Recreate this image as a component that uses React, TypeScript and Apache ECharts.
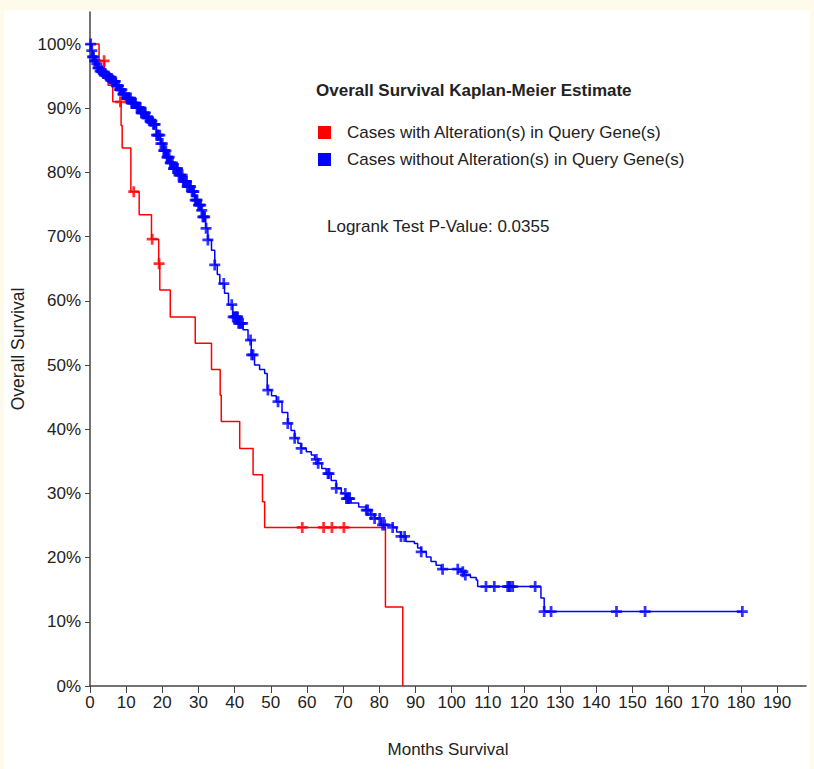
import React, { useEffect, useRef } from "react";
import * as echarts from "echarts";

const redName = "Cases with Alteration(s) in Query Gene(s)";
const blueName = "Cases without Alteration(s) in Query Gene(s)";

// Kaplan-Meier steps (months, survival %)
const redTimes = [0, 2.5, 4.0, 5.0, 6.3, 8.6, 8.9, 11.3, 13.6, 17.0, 19.0, 19.3, 22.2, 29.1, 33.6, 36.0, 36.3, 41.4, 45.1, 47.7, 48.3, 81.7, 86.5];
const redSurv = [100, 97.4, 94.8, 93.6, 91.0, 87.3, 83.8, 77.0, 73.4, 69.6, 65.8, 61.7, 57.5, 53.4, 49.3, 45.3, 41.2, 37.0, 32.9, 28.7, 24.7, 12.3, 0];
const redCensor = [3.9, 8.4, 12.1, 17.2, 19.1, 58.7, 64.6, 66.9, 70.2];

const blueTimes = [0, 0.4, 0.7, 1.2, 1.6, 2.0, 2.5, 3.4, 4.4, 5.3, 6.2, 7.1, 8.0, 9.0, 9.9, 11.3, 12.7, 14.0, 15.4, 16.3, 17.3, 18.4, 19.5, 20.3, 21.1, 22.0, 23.0, 24.3, 25.7, 26.9, 28.0, 29.0, 30.0, 30.8, 31.2, 32.0, 32.6, 33.6, 34.5, 35.2, 35.9, 37.2, 38.3, 39.5, 40.9, 42.3, 43.7, 44.6, 45.5, 46.9, 48.3, 49.0, 50.2, 51.5, 53.1, 54.7, 55.6, 56.6, 57.5, 58.4, 59.8, 61.2, 62.1, 63.0, 64.1, 65.3, 66.7, 68.1, 69.5, 70.9, 72.2, 74.3, 76.4, 77.5, 78.7, 80.5, 83.7, 84.8, 86.0, 87.4, 89.7, 90.6, 91.6, 93.0, 94.3, 95.7, 97.1, 102.6, 103.5, 105.2, 106.8, 107.2, 124.7, 125.6];
const blueSurv = [100, 99.0, 98.0, 97.4, 96.9, 96.3, 95.8, 95.4, 95.0, 94.6, 94.2, 93.5, 92.9, 92.2, 91.6, 90.8, 90.1, 89.3, 88.5, 88.0, 87.5, 85.8, 84.5, 83.4, 82.4, 81.5, 80.6, 79.6, 78.6, 77.8, 77.0, 75.7, 74.9, 74.1, 73.1, 71.3, 69.5, 67.9, 65.6, 64.1, 62.7, 61.2, 59.4, 57.5, 56.5, 55.5, 53.9, 51.6, 50.0, 49.3, 48.7, 46.1, 45.2, 44.3, 42.6, 40.9, 39.8, 38.6, 37.8, 37.0, 36.5, 36.0, 35.3, 34.7, 33.9, 33.1, 32.0, 30.8, 30.0, 29.2, 28.5, 27.9, 27.4, 26.7, 26.1, 25.1, 24.7, 24.0, 23.3, 22.5, 22.2, 21.5, 20.9, 20.1, 19.4, 18.8, 18.2, 17.8, 17.3, 16.9, 16.5, 15.5, 13.7, 11.6];
const blueCensor = [0.2, 0.5, 0.7, 1.0, 1.3, 1.5, 1.9, 2.2, 2.4, 2.8, 3.1, 3.3, 3.7, 4.0, 4.2, 4.6, 4.9, 5.1, 5.5, 5.8, 6.0, 6.4, 6.7, 7.0, 7.3, 7.5, 7.9, 8.2, 8.4, 8.8, 9.1, 9.3, 9.7, 10.0, 10.3, 10.6, 10.8, 11.2, 11.5, 11.7, 12.1, 12.4, 12.6, 13.0, 13.3, 13.5, 13.9, 14.2, 14.4, 14.8, 15.1, 15.3, 15.7, 16.0, 16.2, 16.6, 16.9, 17.1, 17.5, 17.8, 18.0, 18.4, 18.7, 18.9, 19.3, 19.6, 20.0, 20.4, 20.6, 21.0, 21.3, 21.5, 21.9, 22.2, 22.4, 22.8, 23.1, 23.3, 23.7, 24.0, 24.2, 24.6, 24.9, 25.1, 25.5, 25.8, 26.0, 26.4, 26.7, 26.9, 27.3, 27.6, 27.8, 28.2, 28.5, 28.7, 29.1, 29.4, 29.6, 30.0, 30.3, 30.6, 30.9, 31.2, 31.5, 31.7, 32.1, 32.6, 34.5, 37.0, 39.2, 39.6, 40.0, 40.3, 40.6, 40.8, 41.1, 41.4, 41.8, 42.2, 44.4, 44.7, 45.1, 49.2, 52.0, 54.7, 56.6, 58.4, 62.6, 63.1, 65.8, 66.1, 68.1, 70.6, 70.9, 71.3, 71.5, 71.8, 76.4, 76.8, 77.8, 78.7, 80.1, 80.9, 81.5, 83.7, 86.0, 87.0, 91.6, 97.5, 101.7, 103.1, 103.8, 109.5, 111.8, 115.5, 115.9, 116.2, 116.9, 123.1, 125.6, 127.5, 145.6, 153.5, 180.4];

const xTicks = [0, 10, 20, 30, 40, 50, 60, 70, 80, 90, 100, 110, 120, 130, 140, 150, 160, 170, 180, 190];
const yTicks = [0, 10, 20, 30, 40, 50, 60, 70, 80, 90, 100];

const survAt = (times: number[], surv: number[], t: number) => {
  let v = surv[0];
  for (let i = 0; i < times.length; i++) if (times[i] <= t) v = surv[i];
  return v;
};

const lineData = (times: number[], surv: number[], censor: number[]) => {
  const d = times.map((t, i) => [t, surv[i]]);
  const lastC = Math.max(...censor);
  if (lastC > times[times.length - 1]) d.push([lastC, surv[surv.length - 1]]);
  return d;
};

const censorData = (times: number[], surv: number[], censor: number[]) =>
  censor.map((t) => [t, survAt(times, surv, t)]);

const plus = "path://M3,0H5V3H8V5H5V8H3V5H0V3H3Z";
const sans = "'Liberation Sans', Arial, sans-serif";

export default function App() {
  const ref = useRef<HTMLDivElement>(null);
  useEffect(() => {
    if (!ref.current) return;
    const chart = echarts.init(ref.current, undefined, { renderer: "svg" });
    chart.setOption({
      animation: false,
      title: {
        text: "Overall Survival Kaplan-Meier Estimate",
        left: 307,
        top: 67,
        textStyle: { fontSize: 17, fontWeight: "bold", color: "#222", fontFamily: sans },
      },
      legend: {
        data: [redName, blueName],
        orient: "vertical",
        left: 309,
        top: 109,
        itemWidth: 13,
        itemHeight: 13,
        itemGap: 10,
        icon: "rect",
        textStyle: { fontSize: 17, color: "#222", fontFamily: sans, padding: [0, 0, 0, 11] },
      },
      grid: { left: 86, top: 2, right: 4, bottom: 83, containLabel: false, outerBoundsMode: "none" },
      xAxis: {
        type: "value",
        min: 0,
        max: 198,
        interval: 10,
        name: "Months Survival",
        nameLocation: "middle",
        nameGap: 55,
        nameTextStyle: { fontSize: 17, fontFamily: sans, color: "#222" },
        axisLine: { show: true, lineStyle: { color: "#444", width: 1.5 } },
        axisTick: { show: true, length: 7, customValues: xTicks, lineStyle: { color: "#444" } },
        axisLabel: { customValues: xTicks, fontSize: 17, fontFamily: sans, color: "#222", margin: 8 },
        splitLine: { show: false },
      },
      yAxis: {
        type: "value",
        min: 0,
        max: 105,
        interval: 10,
        name: "Overall Survival",
        nameLocation: "middle",
        nameGap: 60,
        nameTextStyle: { fontSize: 17.5, fontFamily: sans, color: "#222" },
        axisLine: { show: true, lineStyle: { color: "#444", width: 1.5 } },
        axisTick: { show: true, length: 5, customValues: yTicks, lineStyle: { color: "#444" } },
        axisLabel: { customValues: yTicks, fontSize: 17, fontFamily: sans, color: "#222", margin: 9, formatter: (v: number) => v + "%" },
        splitLine: { show: false },
      },
      graphic: [
        {
          type: "text",
          left: 323,
          top: 208,
          style: { text: "Logrank Test P-Value: 0.0355", fontSize: 17, fill: "#222", fontFamily: sans },
        },
      ],
      series: [
        {
          name: redName,
          type: "line",
          step: "end",
          data: lineData(redTimes, redSurv, redCensor),
          showSymbol: false,
          lineStyle: { color: "#ff0000", width: 1.5 },
          itemStyle: { color: "#ff0000" },
          z: 2,
        },
        {
          name: blueName,
          type: "line",
          step: "end",
          data: lineData(blueTimes, blueSurv, blueCensor),
          showSymbol: false,
          lineStyle: { color: "#0000ff", width: 1.5 },
          itemStyle: { color: "#0000ff" },
          z: 3,
        },
        {
          name: "Censored (without alteration)",
          type: "scatter",
          data: censorData(blueTimes, blueSurv, blueCensor),
          symbol: plus,
          symbolSize: 11,
          itemStyle: { color: "#0000ff" },
          z: 4,
        },
        {
          name: "Censored (with alteration)",
          type: "scatter",
          data: censorData(redTimes, redSurv, redCensor),
          symbol: plus,
          symbolSize: 11,
          itemStyle: { color: "#ff0000" },
          z: 5,
        },
      ],
    });
    return () => chart.dispose();
  }, []);
  return (
    <div style={{ position: "fixed", left: 0, top: 0, width: 814, height: 769, background: "#fffbea" }}>
      <div
        ref={ref}
        style={{ position: "absolute", left: 4, top: 10, width: 806, height: 759, background: "#ffffff" }}
      />
    </div>
  );
}
